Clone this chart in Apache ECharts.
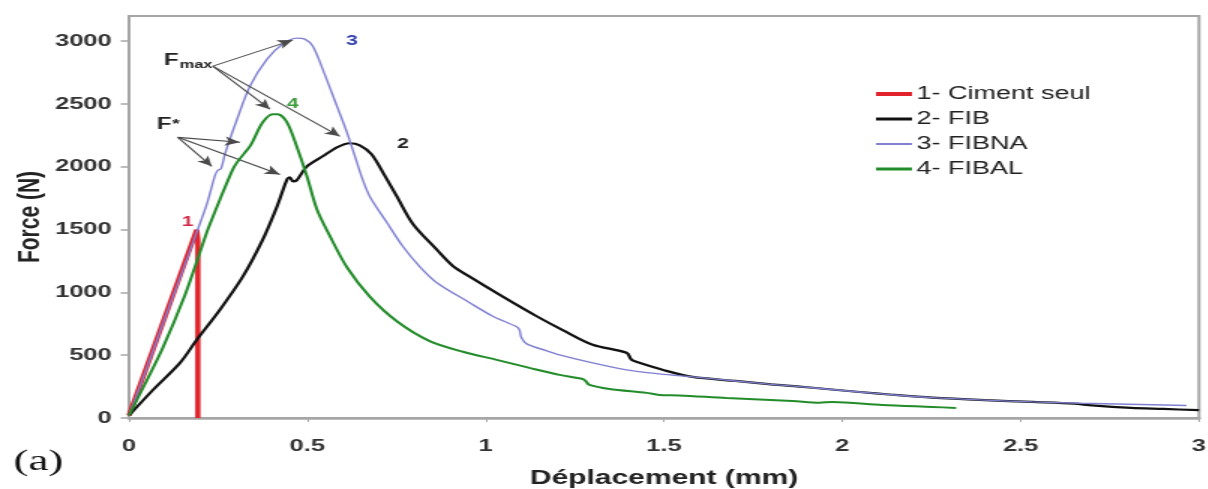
<!DOCTYPE html>
<html>
<head>
<meta charset="utf-8">
<script src="https://cdn.jsdelivr.net/npm/echarts@6/dist/echarts.min.js"></script>
<style>
html,body{margin:0;padding:0;background:#fff;overflow:hidden;}
#wrap{width:1208px;height:489px;overflow:hidden;position:relative;}
#chart{width:806px;height:489px;transform:scaleX(1.5);transform-origin:0 0;}
</style>
</head>
<body>
<div id="wrap"><div id="chart"></div></div>
<script>
// ---- data ----
const xTicks = [0, 0.5, 1, 1.5, 2, 2.5, 3];
const yTicks = [0, 500, 1000, 1500, 2000, 2500, 3000];
const seriesNames = ['1- Ciment seul', '2- FIB', '3- FIBNA', '4- FIBAL'];

const cimentSeul = [[0,20],[0.19,1500],[0.193,1420],[0.193,0]];

const fib = [[0,20],[0.067,223],[0.143,439],[0.19,622],[0.255,862],[0.319,1125],[0.375,1420],
  [0.415,1684],[0.443,1899],[0.451,1915],[0.46,1883],[0.47,1891],[0.499,2003],[0.543,2083],
  [0.583,2155],[0.619,2187],[0.647,2171],[0.68,2100],[0.715,1940],[0.751,1764],[0.796,1545],
  [0.863,1340],[0.908,1210],[0.955,1125],[1.048,966],[1.143,810],[1.216,700],
  [1.3,583],[1.395,519],[1.409,463],[1.431,439],[1.5,380],[1.58,327],[1.7,295],[1.8,268],
  [1.88,250],[1.955,231],[2.048,207],[2.14,185],[2.252,162],[2.4,142],[2.532,128],[2.65,115],
  [2.7,100],[2.81,80],[2.9,72],[3.0,62]];

const fibna = [[0,20],[0.05,400],[0.1,790],[0.15,1170],[0.19,1480],[0.218,1700],[0.241,1930],
  [0.249,1972],[0.258,1985],[0.27,2110],[0.303,2378],[0.339,2641],[0.387,2857],[0.431,2977],
  [0.471,3024],[0.493,3016],[0.515,2961],[0.543,2777],[0.583,2482],[0.611,2274],[0.639,2035],
  [0.655,1899],[0.675,1764],[0.723,1556],[0.768,1365],[0.815,1205],[0.863,1077],[0.955,918],
  [1.02,810],[1.087,726],[1.095,700],[1.1,640],[1.115,590],[1.171,535],[1.207,503],[1.3,439],
  [1.395,383],[1.487,351],[1.58,327],[1.7,295],[1.8,268],[1.88,250],[1.955,231],[2.048,207],
  [2.14,185],[2.252,162],[2.4,142],[2.532,128],[2.672,118],[2.8,110],[2.965,100]];

const fibal = [[0,20],[0.05,300],[0.095,560],[0.157,980],[0.193,1270],[0.221,1500],[0.255,1740],
  [0.291,1979],[0.303,2035],[0.339,2163],[0.347,2202],[0.375,2354],[0.403,2418],[0.417,2418],
  [0.443,2354],[0.47,2163],[0.499,1923],[0.527,1660],[0.563,1450],[0.611,1200],[0.675,966],
  [0.751,770],[0.843,612],[0.936,527],[1.031,463],[1.123,399],[1.207,343],
  [1.272,311],[1.28,295],[1.291,263],[1.347,231],[1.451,200],[1.487,184],[1.543,180],
  [1.675,160],[1.86,136],[1.936,122],[1.972,128],[2.112,104],[2.252,88],[2.319,80]];

// annotation texts: [text, x, y]
const curveLabels = [['1',0.165,1556],['2',0.768,2178],['3',0.625,3000],['4',0.459,2498]];
const fLabels = [['F',0.118,2849,16],['max',0.188,2809,11],['F',0.098,2338,16],['*',0.132,2338,13]];
// arrows: [fromX, fromY, toX, toY]
const arrows = [[0.235,2801,0.459,3008],[0.235,2801,0.395,2458],[0.235,2801,0.591,2242],
  [0.137,2234,0.311,2195],[0.137,2234,0.232,2003],[0.137,2234,0.423,1939]];

// ---- styles ----
const colors = ['#e3232b', '#111111', '#8080d2', '#238c2a'];
const widths = [3.5, 2.2, 1.4, 2];
const smoothing = [false, 0.3, 0.3, 0.3];
const legendThick = [4, 3.2, 2, 3];
const labelColors = ['#d02a48', '#222222', '#3040aa', '#3a9a3a'];
const FONT = '"Liberation Sans", Arial, sans-serif';

function stripeIcon(t) {
  const a = (14 - t) / 2, b = a + t;
  return 'path://M0,0L0.01,0L0.01,0.01Z M0,' + a + 'L24,' + a + 'L24,' + b + 'L0,' + b +
    'Z M23.99,14L24,14L24,13.99Z';
}

const chart = echarts.init(document.getElementById('chart'), null, {renderer: 'canvas', width: 806, height: 489});

const dataSets = [cimentSeul, fib, fibna, fibal];
const series = dataSets.map((d, i) => ({
  name: seriesNames[i],
  type: 'line',
  data: d,
  symbol: 'none',
  showSymbol: false,
  smooth: smoothing[i],
  lineStyle: {color: colors[i], width: widths[i]},
  itemStyle: {color: colors[i]},
  emphasis: {disabled: true},
  z: 2 + i
}));

series.push({
  name: 'annotations',
  type: 'line',
  data: [],
  symbol: 'none',
  silent: true,
  z: 10,
  markLine: {
    silent: true,
    animation: false,
    symbol: ['none', 'arrow'],
    symbolSize: [7, 10],
    label: {show: false},
    lineStyle: {color: '#4a4a4a', width: 1.1, type: 'solid'},
    emphasis: {disabled: true},
    data: arrows.map(a => [{coord: [a[0], a[1]]}, {coord: [a[2], a[3]]}])
  },
  markPoint: {
    silent: true,
    animation: false,
    symbol: 'circle',
    symbolSize: 1,
    itemStyle: {color: 'rgba(0,0,0,0)'},
    data: curveLabels.map((l, i) => ({
      coord: [l[1], l[2]],
      label: {show: true, formatter: l[0], position: 'inside', color: labelColors[i],
        fontSize: 14, fontWeight: 'bold', fontFamily: FONT}
    })).concat(fLabels.map(l => ({
      coord: [l[1], l[2]],
      label: {show: true, formatter: l[0], position: 'inside', color: '#222',
        fontSize: l[3], fontWeight: 'bold', fontFamily: FONT}
    })))
  }
});

const option = {
  animation: false,
  backgroundColor: '#ffffff',
  grid: {left: 86, right: 6.67, top: 16, bottom: 71, show: true, borderColor: '#a6a6a6', borderWidth: 2,
    backgroundColor: 'transparent', outerBoundsMode: 'none', containLabel: false},
  legend: {
    data: seriesNames.map((n, i) => ({name: n, icon: stripeIcon(legendThick[i])})),
    orient: 'vertical',
    left: 579,
    top: 80,
    itemWidth: 24,
    itemHeight: 14,
    itemGap: 7,
    textStyle: {fontSize: 18, color: '#222', fontFamily: FONT, padding: [0, 0, 0, -2]},
    selectedMode: false
  },
  xAxis: {
    type: 'value', min: 0, max: 3, interval: 0.5,
    name: 'Déplacement (mm)', nameLocation: 'middle', nameGap: 50, nameMoveOverlap: false,
    nameTextStyle: {fontSize: 20, fontWeight: 'bold', color: '#222', fontFamily: FONT},
    axisLine: {show: true, onZero: false, lineStyle: {color: '#a6a6a6', width: 2.5}},
    axisTick: {show: true, length: 4, customValues: xTicks, lineStyle: {color: '#a6a6a6', width: 1}},
    axisLabel: {customValues: xTicks, margin: 20, fontSize: 17, fontWeight: 'bold', color: '#333', fontFamily: FONT,
      formatter: v => String(v)},
    splitLine: {show: false}
  },
  yAxis: {
    type: 'value', min: 0, max: 3200, interval: 500,
    name: 'Force (N)', nameLocation: 'middle', nameGap: 55, nameMoveOverlap: false,
    nameTextStyle: {fontSize: 21, fontWeight: 'bold', color: '#222', fontFamily: FONT},
    axisLine: {show: true, onZero: false, lineStyle: {color: '#a6a6a6', width: 1.7}},
    axisTick: {show: true, length: 5.5, customValues: yTicks, lineStyle: {color: '#a6a6a6', width: 1.5}},
    axisLabel: {customValues: yTicks, margin: 11.5, fontSize: 17, fontWeight: 'bold', color: '#333', fontFamily: FONT,
      formatter: v => String(v)},
    splitLine: {show: false}
  },
  graphic: [{
    type: 'text', left: 9, top: 447,
    style: {text: '(a)', fontSize: 30, fontFamily: '"Liberation Serif", "Times New Roman", serif', fill: '#111'}
  }],
  series: series
};
chart.setOption(option);
</script>
</body>
</html>
